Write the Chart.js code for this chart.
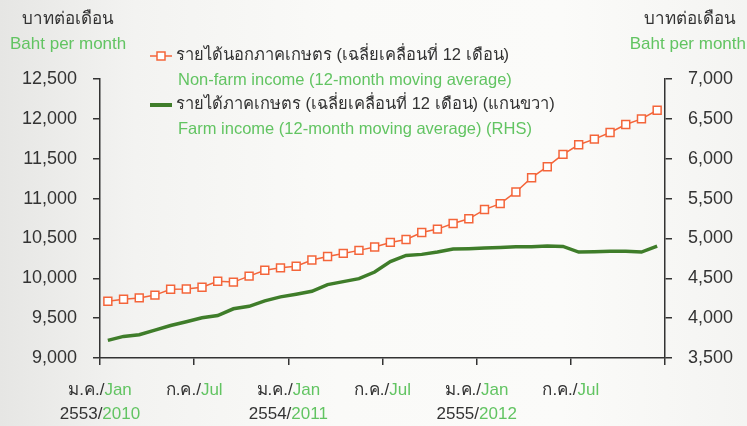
<!DOCTYPE html>
<html>
<head>
<meta charset="utf-8">
<script src="https://cdn.jsdelivr.net/npm/chart.js@4/dist/chart.umd.min.js"></script>
<style>
  html, body { margin: 0; padding: 0; }
  body {
    width: 747px; height: 426px; overflow: hidden;
    background: linear-gradient(90deg, #e6e6e4 0%, #f3f3f1 18%, #fafaf8 45%, #fbfbf9 75%, #f4f4f2 100%);
  }
  #wrap { position: relative; width: 747px; height: 426px; }
</style>
</head>
<body>
<div id="wrap"><canvas id="incomeChart" width="747" height="426"></canvas></div>
<script>
// monthly, Jan 2010 - Dec 2012
var months = [
  'Jan 2010', 'Feb 2010', 'Mar 2010', 'Apr 2010', 'May 2010', 'Jun 2010',
  'Jul 2010', 'Aug 2010', 'Sep 2010', 'Oct 2010', 'Nov 2010', 'Dec 2010',
  'Jan 2011', 'Feb 2011', 'Mar 2011', 'Apr 2011', 'May 2011', 'Jun 2011',
  'Jul 2011', 'Aug 2011', 'Sep 2011', 'Oct 2011', 'Nov 2011', 'Dec 2011',
  'Jan 2012', 'Feb 2012', 'Mar 2012', 'Apr 2012', 'May 2012', 'Jun 2012',
  'Jul 2012', 'Aug 2012', 'Sep 2012', 'Oct 2012', 'Nov 2012', 'Dec 2012'
];
var nonFarm = [
  9712, 9737, 9754, 9789, 9862, 9865, 9887, 9962, 9952, 10027, 10100, 10131,
  10152, 10229, 10273, 10312, 10350, 10392, 10450, 10487, 10575, 10617, 10687, 10746,
  10862, 10937, 11083, 11262, 11400, 11554, 11675, 11746, 11829, 11929, 12000, 12108
];
var farm = [
  3721, 3771, 3792, 3850, 3908, 3954, 4004, 4033, 4117, 4148, 4217, 4267,
  4300, 4337, 4421, 4458, 4496, 4579, 4710, 4787, 4800, 4829, 4867, 4871,
  4879, 4887, 4896, 4896, 4904, 4900, 4829, 4833, 4838, 4840, 4829, 4904
];
var tickThai = ['ม.ค./', 'ก.ค./', 'ม.ค./', 'ก.ค./', 'ม.ค./', 'ก.ค./'];
var tickEng = ['Jan', 'Jul', 'Jan', 'Jul', 'Jan', 'Jul'];
var yearThai = ['2553/', '', '2554/', '', '2555/', ''];
var yearEng = ['2010', '', '2011', '', '2012', ''];

var DARK = '#333333';
var LIGHT_GREEN = '#62c462';
var ORANGE = '#f4653a';
var FARM_GREEN = '#3f7d2a';
var FONT = '"Liberation Sans", Arial, "Noto Sans", sans-serif';

function toPoints( arr ) {
  return arr.map( function ( v, i ) { return { x: i + 0.5, y: v }; } );
}

// text in two colours (Thai dark, English green)
function drawParts( ctx, parts, x, y, align ) {
  var total = 0;
  parts.forEach( function ( p ) { total += ctx.measureText( p[0] ).width; } );
  var cx = x;
  if ( align === 'center' ) cx = x - total / 2;
  if ( align === 'right' ) cx = x - total;
  ctx.textAlign = 'left';
  parts.forEach( function ( p ) {
    ctx.fillStyle = p[1];
    ctx.fillText( p[0], cx, y );
    cx += ctx.measureText( p[0] ).width;
  } );
}

var textPlugin = {
  id: 'textPlugin',
  afterDraw: function ( chart ) {
    var ctx = chart.ctx;
    var xs = chart.scales.x;
    ctx.save();
    ctx.textBaseline = 'middle';
    ctx.font = '17px ' + FONT;

    // axis titles
    drawParts( ctx, [['บาทต่อเดือน', DARK]], 68, 19, 'center' );
    drawParts( ctx, [['Baht per month', LIGHT_GREEN]], 10, 44, 'left' );
    drawParts( ctx, [['บาทต่อเดือน', DARK]], 690, 19, 'center' );
    drawParts( ctx, [['Baht per month', LIGHT_GREEN]], 746, 44, 'right' );

    // x labels
    for ( var i = 0; i < tickThai.length; i++ ) {
      var px = xs.getPixelForValue( i * 6 );
      drawParts( ctx, [[tickThai[i], DARK], [tickEng[i], LIGHT_GREEN]], px, 390, 'center' );
      if ( yearThai[i] ) {
        drawParts( ctx, [[yearThai[i], DARK], [yearEng[i], LIGHT_GREEN]], px, 414, 'center' );
      }
    }

    // legend
    ctx.strokeStyle = ORANGE;
    ctx.lineWidth = 1.5;
    ctx.beginPath(); ctx.moveTo( 150, 56 ); ctx.lineTo( 172, 56 ); ctx.stroke();
    ctx.fillStyle = '#ffffff';
    ctx.fillRect( 157, 52, 8, 8 );
    ctx.strokeRect( 157, 52, 8, 8 );
    ctx.strokeStyle = FARM_GREEN;
    ctx.lineWidth = 4;
    ctx.beginPath(); ctx.moveTo( 150, 105 ); ctx.lineTo( 172, 105 ); ctx.stroke();

    ctx.font = '16.5px ' + FONT;
    drawParts( ctx, [['รายได้นอกภาคเกษตร (เฉลี่ยเคลื่อนที่ 12 เดือน)', DARK]], 176, 55, 'left' );
    drawParts( ctx, [['Non-farm income (12-month moving average)', LIGHT_GREEN]], 178, 80, 'left' );
    drawParts( ctx, [['รายได้ภาคเกษตร (เฉลี่ยเคลื่อนที่ 12 เดือน) (แกนขวา)', DARK]], 176, 104, 'left' );
    drawParts( ctx, [['Farm income (12-month moving average) (RHS)', LIGHT_GREEN]], 178, 129, 'left' );
    ctx.restore();
  }
};

var axisGrid = { drawOnChartArea: false, tickLength: 7, color: DARK, lineWidth: 1.5 };
var axisBorder = { display: true, color: DARK, width: 1.5 };
var yTicks = {
  color: DARK,
  padding: 16,
  font: { family: FONT, size: 18 },
  callback: function ( v ) { return v.toLocaleString( 'en-US' ); }
};

var ctx = document.getElementById( 'incomeChart' ).getContext( '2d' );
var myChart = new Chart( ctx, {
  type: 'line',
  data: {
    datasets: [
      {
        label: 'Non-farm income (12-month moving average)',
        data: toPoints( nonFarm ),
        yAxisID: 'y',
        borderColor: ORANGE,
        borderWidth: 1.5,
        pointStyle: 'rect',
        pointRadius: 5.6,
        pointBackgroundColor: '#ffffff',
        pointBorderColor: ORANGE,
        pointBorderWidth: 1.5,
        tension: 0
      },
      {
        label: 'Farm income (12-month moving average) (RHS)',
        data: toPoints( farm ),
        yAxisID: 'y1',
        borderColor: FARM_GREEN,
        borderWidth: 3.5,
        pointRadius: 0,
        tension: 0
      }
    ]
  },
  options: {
    responsive: false,
    animation: false,
    devicePixelRatio: 1,
    layout: { padding: { top: 79, left: 0, right: 0, bottom: 0 } },
    plugins: { legend: { display: false }, tooltip: { enabled: false } },
    scales: {
      x: {
        type: 'linear',
        min: 0,
        max: months.length,
        grid: axisGrid,
        border: axisBorder,
        ticks: { stepSize: 6, callback: function () { return ''; } },
        afterFit: function ( s ) { s.height = 68; }
      },
      y: {
        position: 'left',
        min: 9000,
        max: 12500,
        grid: axisGrid,
        border: axisBorder,
        ticks: Object.assign( { stepSize: 500 }, yTicks ),
        afterFit: function ( s ) { s.width = 100; }
      },
      y1: {
        position: 'right',
        min: 3500,
        max: 7000,
        grid: axisGrid,
        border: axisBorder,
        ticks: Object.assign( { stepSize: 500 }, yTicks ),
        afterFit: function ( s ) { s.width = 82; }
      }
    }
  },
  plugins: [textPlugin]
} );
</script>
</body>
</html>
